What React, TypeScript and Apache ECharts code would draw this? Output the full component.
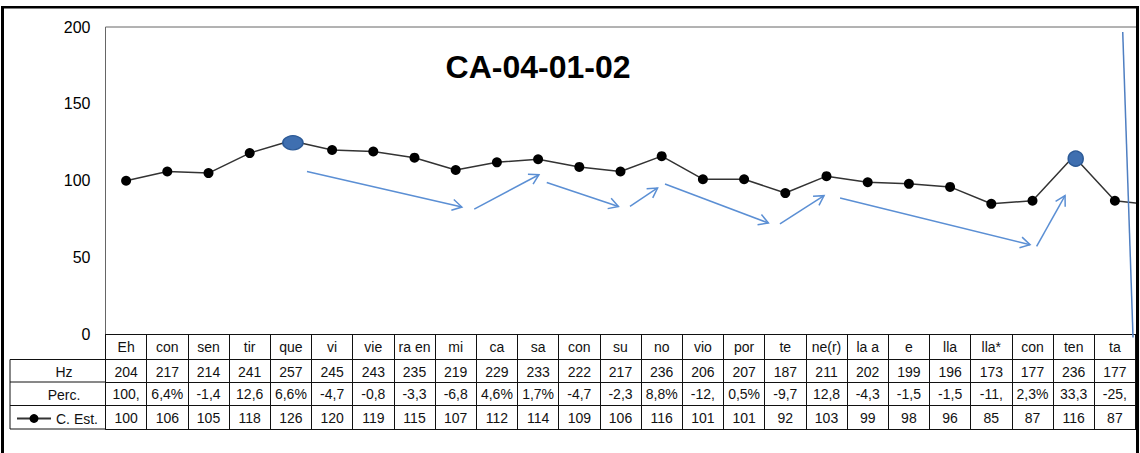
import React, { useEffect, useRef } from "react";
import * as echarts from "echarts";

const FONT = "'Liberation Sans', Arial, sans-serif";

const chartTitle = "CA-04-01-02";
const categories = ["Eh", "con", "sen", "tir", "que", "vi", "vie", "ra en", "mi", "ca", "sa", "con", "su", "no", "vio", "por", "te", "ne(r)", "la a", "e", "lla", "lla*", "con", "ten", "ta", ""];
const hzValues = ["204", "217", "214", "241", "257", "245", "243", "235", "219", "229", "233", "222", "217", "236", "206", "207", "187", "211", "202", "199", "196", "173", "177", "236", "177", ""];
const percValues = ["100,", "6,4%", "-1,4", "12,6", "6,6%", "-4,7", "-0,8", "-3,3", "-6,8", "4,6%", "1,7%", "-4,7", "-2,3", "8,8%", "-12,", "0,5%", "-9,7", "12,8", "-4,3", "-1,5", "-1,5", "-11,", "2,3%", "33,3", "-25,", ""];
const cEstValues = [100, 106, 105, 118, 126, 120, 119, 115, 107, 112, 114, 109, 106, 116, 101, 101, 92, 103, 99, 98, 96, 85, 87, 116, 87, 84];
const rowLabels = ["Hz", "Perc."];
const seriesName = "C. Est.";
const highlighted = [4, 23];

// hand-drawn arrows, in data space: [categoryIndex0, value0, categoryIndex1, value1]
const arrows = [
  [4.39, 106.0, 8.15, 82.9],
  [8.45, 81.6, 10.02, 103.9],
  [10.21, 98.9, 11.95, 83.3],
  [12.23, 83.3, 12.9, 95.3],
  [13.08, 97.9, 15.59, 72.5],
  [15.87, 71.9, 16.94, 90.3],
  [17.33, 88.8, 21.94, 58.4],
  [22.1, 57.3, 22.79, 90.3],
];
const strayStroke = [24.19, 196.8, 24.44, -2.0];

const idxData = categories.map((_, i) => String(i));

export default function App() {
  const ref = useRef<HTMLDivElement>(null);
  useEffect(() => {
    const chart = echarts.init(ref.current!, null, { renderer: "svg" });
    const lineColor = "#111";
    const tableText = { fontFamily: FONT, fontSize: 14, color: "#111" };
    const rowAxis = (offset: number, labels: (i: number) => string, showLabel = true) => ({
      type: "category",
      data: idxData,
      position: "bottom",
      offset,
      boundaryGap: true,
      axisLine: { show: true, lineStyle: { color: lineColor, width: 1 } },
      axisTick: { show: false },
      axisLabel: {
        show: showLabel,
        interval: 0,
        margin: 5,
        ...tableText,
        formatter: (v: string) => labels(Number(v)),
      },
    });
    const option: any = {
      animation: false,
      backgroundColor: "#fff",
      grid: {
        left: 105.5,
        top: 27,
        width: 41.2 * categories.length,
        height: 307.5,
        show: true,
        borderColor: "#666",
        borderWidth: 1,
      },
      legend: {
        data: [seriesName],
        left: 16,
        top: 411.5,
        padding: 0,
        itemWidth: 34,
        itemHeight: 11,
        selectedMode: false,
        textStyle: { fontFamily: FONT, fontSize: 14, color: "#111" },
      },
      xAxis: [
        {
          type: "category",
          data: idxData,
          position: "bottom",
          boundaryGap: true,
          axisLine: { show: true, lineStyle: { color: lineColor, width: 1 } },
          axisTick: { show: true, interval: 0, length: 94.5, lineStyle: { color: lineColor, width: 1 } },
          axisLabel: { interval: 0, margin: 5, ...tableText, formatter: (v: string) => categories[Number(v)] },
        },
        rowAxis(25, (i) => hzValues[i]),
        rowAxis(47.5, (i) => percValues[i]),
        rowAxis(71, (i) => (i < categories.length - 1 ? String(cEstValues[i]) : "")),
        rowAxis(94.5, () => "", false),
      ],
      yAxis: {
        type: "value",
        min: 0,
        max: 200,
        interval: 50,
        axisLine: { show: false },
        axisTick: { show: false },
        splitLine: { show: false },
        axisLabel: { fontFamily: FONT, fontSize: 16, color: "#000", margin: 15 },
      },
      series: [
        {
          name: seriesName,
          type: "line",
          xAxisIndex: 0,
          yAxisIndex: 0,
          symbol: "circle",
          symbolSize: 10,
          itemStyle: { color: "#000" },
          lineStyle: { color: "#333", width: 1.5 },
          data: cEstValues.map((v, i) => {
            if (highlighted[0] === i) {
              return { value: v, symbolSize: [20, 14], symbolOffset: [2, 2], itemStyle: { color: "#3f6fb0", borderColor: "#2c5a97", borderWidth: 1.5 } };
            }
            if (highlighted[1] === i) {
              return { value: v, symbolSize: 15, symbolOffset: [2, 2.5], itemStyle: { color: "#3f6fb0", borderColor: "#2c5a97", borderWidth: 1.5 } };
            }
            return v;
          }),
          z: 3,
        },
      ],
    };
    chart.setOption(option);

    const toPx = (xi: number, v: number) => {
      const a = chart.convertToPixel({ xAxisIndex: 0, yAxisIndex: 0 }, [0, v]) as number[];
      const b = chart.convertToPixel({ xAxisIndex: 0, yAxisIndex: 0 }, [1, v]) as number[];
      return [a[0] + (b[0] - a[0]) * xi, a[1]];
    };

    const arrowColor = "#5b8fd4";
    const elements: any[] = [];
    arrows.forEach((a, k) => {
      const s = toPx(a[0], a[1]);
      const t = toPx(a[2], a[3]);
      const dx = t[0] - s[0];
      const dy = t[1] - s[1];
      const len = Math.sqrt(dx * dx + dy * dy);
      const ux = dx / len;
      const uy = dy / len;
      const L = 11;
      const ang = (30 * Math.PI) / 180;
      const rot = (c: number) => {
        const cs = Math.cos(c);
        const sn = Math.sin(c);
        return [t[0] - L * (ux * cs - uy * sn), t[1] - L * (ux * sn + uy * cs)];
      };
      elements.push({
        type: "line",
        id: "ar" + k,
        z: 50,
        shape: { x1: s[0], y1: s[1], x2: t[0], y2: t[1] },
        style: { stroke: arrowColor, lineWidth: 1.5 },
      });
      elements.push({
        type: "polyline",
        id: "ah" + k,
        z: 50,
        shape: { points: [rot(ang), t, rot(-ang)] },
        style: { stroke: arrowColor, lineWidth: 1.5, fill: null },
      });
    });
    const vs = toPx(strayStroke[0], strayStroke[1]);
    const ve = toPx(strayStroke[2], strayStroke[3]);
    elements.push({
      type: "line",
      id: "stray",
      z: 50,
      shape: { x1: vs[0], y1: vs[1], x2: ve[0], y2: ve[1] },
      style: { stroke: "#4f7fc2", lineWidth: 1.5 },
    });

    // title
    elements.push({
      type: "text",
      id: "title",
      z: 60,
      x: 538,
      y: 67,
      style: {
        text: chartTitle,
        fontFamily: FONT,
        fontSize: 32,
        fontWeight: "bold",
        fill: "#000",
        align: "center",
        verticalAlign: "middle",
      },
    });

    // left column of the data table
    const rowYs = [359.5, 382, 405.5, 429];
    rowYs.forEach((y, k) => {
      elements.push({
        type: "line",
        id: "tl" + k,
        z: 40,
        shape: { x1: 10, y1: y, x2: 105.5, y2: y },
        style: { stroke: lineColor, lineWidth: 1 },
      });
    });
    elements.push({
      type: "line",
      id: "tlv",
      z: 40,
      shape: { x1: 10, y1: 359.5, x2: 10, y2: 429 },
      style: { stroke: lineColor, lineWidth: 1 },
    });
    rowLabels.forEach((t, k) => {
      elements.push({
        type: "text",
        id: "rl" + k,
        z: 40,
        x: 64,
        y: (rowYs[k] + rowYs[k + 1]) / 2 + 1,
        style: { text: t, fontFamily: FONT, fontSize: 14, fill: "#111", align: "center", verticalAlign: "middle" },
      });
    });

    // mask beyond the frame and the frame itself
    elements.push({ type: "rect", id: "mask", z: 90, shape: { x: 1139, y: 0, width: 80, height: 453 }, style: { fill: "#fff" } });
    elements.push({ type: "line", id: "fl", z: 95, shape: { x1: 2.5, y1: 6, x2: 2.5, y2: 453 }, style: { stroke: "#000", lineWidth: 3 } });
    elements.push({ type: "line", id: "ft", z: 95, shape: { x1: 1, y1: 7.3, x2: 1139, y2: 7.3 }, style: { stroke: "#000", lineWidth: 2.5 } });
    elements.push({ type: "line", id: "fr", z: 95, shape: { x1: 1137.5, y1: 6, x2: 1137.5, y2: 453 }, style: { stroke: "#000", lineWidth: 3 } });

    chart.setOption({ graphic: { elements } });
    return () => chart.dispose();
  }, []);
  return (
    <div style={{ position: "fixed", left: 0, top: 0, width: 1140, height: 453, overflow: "hidden", background: "#fff" }}>
      <div ref={ref} style={{ width: 1220, height: 453 }} />
    </div>
  );
}
